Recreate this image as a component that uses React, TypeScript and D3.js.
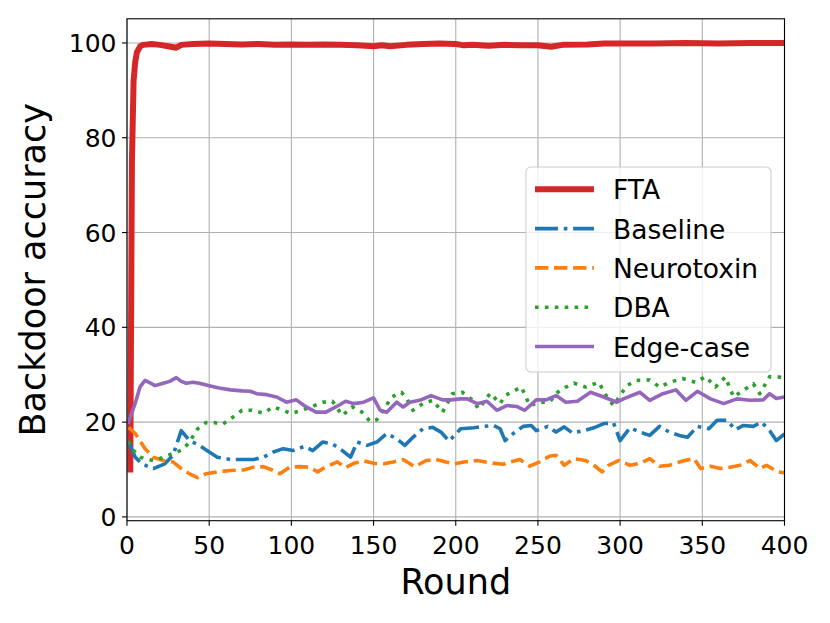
import React from "react";
import * as d3 from "d3";

// ---------- data ----------
const xTicks = [0, 50, 100, 150, 200, 250, 300, 350, 400];
const yTicks = [0, 20, 40, 60, 80, 100];

const ftaRounds = [2, 3, 4, 5, 6, 8, 10, 15, 20, 25, 30, 33, 40, 50, 60, 70, 80, 90, 100, 110, 120, 130, 140, 150, 155, 160, 170, 180, 190, 200, 205, 210, 220, 230, 240, 250, 258, 265, 280, 290, 300, 320, 340, 360, 380, 400];
const ftaValues = [10, 75, 92, 96, 98, 99.3, 99.6, 99.8, 99.6, 99.3, 99.0, 99.6, 99.8, 99.9, 99.8, 99.7, 99.8, 99.6, 99.7, 99.6, 99.7, 99.6, 99.5, 99.3, 99.5, 99.3, 99.6, 99.8, 99.9, 99.8, 99.5, 99.6, 99.4, 99.6, 99.5, 99.5, 99.2, 99.6, 99.7, 99.9, 99.9, 99.9, 100, 99.9, 100, 100];

const baselineRounds = [1, 5, 9, 16, 23, 28, 33, 38, 44, 50, 55, 63, 71, 77, 83, 89, 95, 101, 108, 113, 119, 125, 131, 136, 140, 146, 152, 158, 164, 169, 174, 180, 186, 191, 196, 203, 211, 217, 223, 227, 230, 235, 241, 246, 249, 256, 261, 266, 271, 278, 284, 290, 296, 300, 306, 312, 318, 324, 330, 336, 341, 347, 354, 359, 365, 370, 375, 381, 386, 391, 395, 400];
const baselineValues = [15.8, 12.6, 11.2, 10.2, 11.2, 13.0, 18.2, 16.1, 15.1, 13.7, 12.6, 12.1, 12.1, 12.1, 12.6, 13.7, 14.4, 14.0, 14.9, 14.0, 15.8, 15.4, 14.0, 12.6, 15.8, 15.1, 15.8, 17.6, 16.5, 15.1, 16.8, 18.6, 18.9, 17.9, 16.0, 18.6, 18.8, 19.1, 19.3, 18.6, 16.1, 17.6, 19.1, 19.3, 18.2, 19.1, 17.9, 19.0, 17.7, 18.2, 18.8, 19.7, 19.8, 16.1, 18.8, 17.9, 17.2, 19.1, 17.9, 17.2, 16.8, 19.1, 18.6, 20.4, 20.4, 18.4, 19.3, 19.1, 20.0, 18.2, 16.1, 17.5];

const neuroRounds = [1, 5, 11, 16, 22, 28, 33, 38, 43, 48, 55, 63, 71, 77, 83, 89, 93, 99, 105, 111, 116, 121, 128, 133, 138, 144, 150, 156, 162, 168, 175, 182, 188, 194, 199, 205, 213, 221, 229, 233, 239, 245, 251, 257, 261, 266, 272, 279, 284, 289, 293, 299, 306, 313, 318, 324, 330, 338, 345, 349, 355, 361, 367, 373, 379, 385, 389, 396, 400];
const neuroValues = [18.9, 17.6, 14.4, 12.6, 11.9, 11.6, 10.2, 9.1, 8.3, 9.1, 9.5, 9.8, 9.9, 10.5, 10.6, 9.8, 9.1, 10.5, 10.6, 10.5, 9.5, 10.6, 11.6, 10.4, 11.3, 11.8, 11.3, 11.2, 11.6, 12.1, 10.6, 11.9, 12.1, 11.6, 11.2, 11.6, 11.9, 11.4, 11.1, 11.6, 12.1, 10.7, 11.6, 12.8, 13.0, 10.9, 12.3, 11.9, 10.9, 9.5, 10.9, 11.9, 10.9, 11.4, 12.3, 10.7, 10.9, 11.8, 12.3, 10.2, 10.7, 10.2, 10.5, 10.9, 11.9, 10.2, 10.9, 9.5, 9.3];

const dbaRounds = [1, 4, 8, 12, 16, 22, 28, 34, 38, 43, 48, 53, 58, 63, 70, 76, 83, 89, 95, 100, 106, 112, 119, 125, 131, 137, 143, 148, 152, 156, 161, 167, 170, 174, 180, 186, 192, 198, 204, 210, 214, 221, 227, 230, 236, 240, 245, 251, 257, 262, 267, 272, 279, 287, 292, 296, 304, 310, 318, 324, 330, 338, 346, 352, 358, 364, 369, 375, 381, 385, 391, 397, 400];
const dbaValues = [16, 14, 12.6, 12.2, 11.9, 12.5, 13.4, 14.2, 15.8, 18.6, 19.9, 19.9, 19.5, 20.7, 22.5, 22.5, 21.9, 23.2, 22.5, 21.8, 22.5, 23.2, 24.2, 24.4, 21.4, 23.2, 22.1, 20.1, 20.5, 22.5, 25.3, 26.3, 25.0, 22.5, 23.9, 24.6, 22.1, 26.0, 26.3, 24.7, 22.8, 26.1, 23.9, 25.6, 26.7, 27.4, 23.5, 24.2, 24.2, 26.3, 27.4, 28.2, 27.4, 28.4, 25.3, 23.5, 27.7, 28.8, 28.9, 27.4, 28.4, 29.2, 28.4, 29.6, 27.4, 29.5, 25.3, 26.7, 28.1, 26.0, 29.6, 29.5, 29.3];

const edgeRounds = [1, 5, 8, 11, 14, 17, 22, 26, 30, 33, 36, 40, 44, 50, 56, 63, 70, 75, 79, 85, 91, 97, 103, 109, 115, 121, 127, 133, 138, 144, 150, 154, 158, 164, 168, 172, 178, 185, 192, 197, 203, 207, 213, 219, 225, 231, 237, 242, 249, 255, 261, 267, 274, 282, 290, 298, 302, 312, 318, 326, 334, 340, 347, 355, 363, 371, 379, 387, 391, 395, 400];
const edgeValues = [20, 24, 27.5, 28.8, 28.3, 27.7, 28.2, 28.6, 29.4, 28.6, 28.2, 28.4, 28.2, 27.7, 27.2, 26.8, 26.6, 26.5, 26.0, 25.8, 25.3, 24.2, 24.7, 23.2, 22.1, 22.1, 23.2, 24.4, 23.9, 24.2, 25.1, 22.5, 22.1, 24.2, 23.2, 24.2, 24.6, 25.6, 24.7, 24.7, 24.9, 24.9, 23.9, 24.4, 22.5, 23.5, 23.3, 22.5, 24.7, 24.7, 25.6, 24.2, 24.4, 26.3, 25.3, 24.2, 24.9, 26.3, 24.6, 26.0, 26.8, 24.6, 26.5, 24.9, 23.9, 24.9, 24.6, 24.7, 26.0, 25.0, 25.3];

const seriesNames = ["FTA", "Baseline", "Neurotoxin", "DBA", "Edge-case"];

// ---------- styling ----------
const FONT = "DejaVu Sans, sans-serif";
const LW = 3.6;
const styles = [
  { color: "#d62728", width: 6, dash: "none", cap: "square" },
  { color: "#1f77b4", width: LW, dash: `${6.4 * LW} ${1.6 * LW} ${1 * LW} ${1.6 * LW}`, cap: "butt" },
  { color: "#ff7f0e", width: LW, dash: `${3.7 * LW} ${1.6 * LW}`, cap: "butt" },
  { color: "#2ca02c", width: LW, dash: `${1 * LW} ${1.75 * LW}`, cap: "butt" },
  { color: "#9467bd", width: LW, dash: "none", cap: "square" },
];

const W = 830, H = 623;
const L = 127, R = 784.5, T = 18.8, B = 520.7;

export default function App() {
  const x = d3.scaleLinear().domain([0, 400]).range([L, R]);
  const y = d3.scaleLinear().domain([-0.8, 105.1]).range([B, T]);

  const series = [
    { r: ftaRounds, v: ftaValues },
    { r: baselineRounds, v: baselineValues },
    { r: neuroRounds, v: neuroValues },
    { r: dbaRounds, v: dbaValues },
    { r: edgeRounds, v: edgeValues },
  ];

  const line = d3
    .line<[number, number]>()
    .x((d) => x(d[0]))
    .y((d) => y(d[1]));

  const legX = 526, legY = 167, legW = 245, legH = 205;
  const rowY0 = 189.3, rowDy = 39.3;

  return (
    <svg
      width={W}
      height={H}
      style={{ position: "absolute", left: 0, top: 0, background: "#fff" }}
      fontFamily={FONT}
    >
      <rect x={0} y={0} width={W} height={H} fill="#fff" />
      <defs>
        <clipPath id="plotclip">
          <rect x={L} y={T} width={R - L} height={B - T} />
        </clipPath>
      </defs>
      {/* grid */}
      <g stroke="#b0b0b0" strokeWidth={1.1}>
        {xTicks.map((t) => (
          <line key={"gx" + t} x1={x(t)} x2={x(t)} y1={T} y2={B} />
        ))}
        {yTicks.map((t) => (
          <line key={"gy" + t} x1={L} x2={R} y1={y(t)} y2={y(t)} />
        ))}
      </g>
      {/* series */}
      <g clipPath="url(#plotclip)" fill="none">
        {series.map((s, i) => {
          const pts = s.r.map((r, j) => [r, s.v[j]] as [number, number]);
          const st = styles[i];
          return (
            <path
              key={seriesNames[i]}
              d={line(pts) || ""}
              stroke={st.color}
              strokeWidth={st.width}
              strokeDasharray={st.dash}
              strokeLinejoin="round"
              strokeLinecap={st.cap as any}
            />
          );
        })}
      </g>
      {/* frame */}
      <rect x={L} y={T} width={R - L} height={B - T} fill="none" stroke="#000" strokeWidth={1.1} />
      {/* x ticks */}
      <g>
        {xTicks.map((t) => (
          <g key={"xt" + t}>
            <line x1={x(t)} x2={x(t)} y1={B} y2={B + 5} stroke="#000" strokeWidth={1.1} />
            <text x={x(t)} y={554} fontSize={25} textAnchor="middle" fill="#000">
              {t}
            </text>
          </g>
        ))}
      </g>
      {/* y ticks */}
      <g>
        {yTicks.map((t) => (
          <g key={"yt" + t}>
            <line x1={L - 5} x2={L} y1={y(t)} y2={y(t)} stroke="#000" strokeWidth={1.1} />
            <text x={116.5} y={y(t) + 9.1} fontSize={25} textAnchor="end" fill="#000">
              {t}
            </text>
          </g>
        ))}
      </g>
      {/* axis labels */}
      <text x={(L + R) / 2} y={594} fontSize={35} textAnchor="middle" fill="#000">
        Round
      </text>
      <text
        transform={`translate(45, ${(T + B) / 2}) rotate(-90)`}
        fontSize={35}
        textAnchor="middle"
        fill="#000"
      >
        Backdoor accuracy
      </text>
      {/* legend */}
      <g>
        <rect
          x={legX}
          y={legY}
          width={legW}
          height={legH}
          rx={5}
          fill="#fff"
          fillOpacity={0.8}
          stroke="#cccccc"
          strokeWidth={1.1}
        />
        {seriesNames.map((name, i) => {
          const cy = rowY0 + i * rowDy;
          const st = styles[i];
          return (
            <g key={"leg" + name}>
              <line
                x1={535}
                x2={594}
                y1={cy}
                y2={cy}
                stroke={st.color}
                strokeWidth={st.width}
                strokeDasharray={st.dash}
                strokeLinecap="butt"
              />
              <text x={613} y={cy + 10} fontSize={26.5} fill="#000">
                {name}
              </text>
            </g>
          );
        })}
      </g>
    </svg>
  );
}
